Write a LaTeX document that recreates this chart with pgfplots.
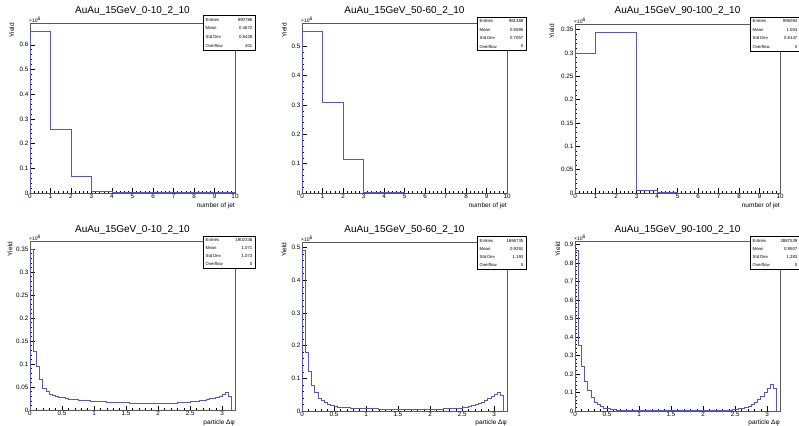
\documentclass[border=0pt]{standalone}
\usepackage{fontspec}
\setmainfont{Liberation Sans}
\usepackage{pgfplots}
\pgfplotsset{compat=1.18}
\definecolor{hcol}{RGB}{85,85,208}
\pgfplotsset{rootax/.style={
  scale only axis, width=205pt,
  tick align=inside, xtick pos=bottom, ytick pos=left,
  minor tick num=4, major tick length=4.5pt, minor tick length=2.3pt,
  every tick/.style={black, line width=0.45pt},
  axis line style={black!65, line width=0.75pt},
  scaled y ticks=false, ymin=0,
  /pgf/number format/assume math mode=true,
  tick label style={font=\fontsize{6.3}{7}\selectfont},
  yticklabel style={/pgf/number format/fixed, /pgf/number format/precision=2, inner sep=1.5pt},
  xticklabel style={/pgf/number format/fixed, /pgf/number format/precision=2, inner sep=1.2pt},
}}
\newcommand{\statbox}[8]{%
  \pgfmathsetmacro\rh{(#3-#4)/4}
  \draw[black, line width=0.45pt, fill=white] (#1,#3) rectangle (#2,#4);
  \node[anchor=west, inner sep=0, font=\fontsize{4.3}{5}\selectfont] at ({#1+2.5},{#3-0.5*\rh}) {Entries};
  \node[anchor=west, inner sep=0, font=\fontsize{4.3}{5}\selectfont] at ({#1+2.5},{#3-1.5*\rh}) {Mean};
  \node[anchor=west, inner sep=0, font=\fontsize{4.3}{5}\selectfont] at ({#1+2.5},{#3-2.5*\rh}) {Std Dev};
  \node[anchor=west, inner sep=0, font=\fontsize{4.3}{5}\selectfont] at ({#1+2.5},{#3-3.5*\rh}) {Overflow};
  \node[anchor=east, inner sep=0, font=\fontsize{4.3}{5}\selectfont] at ({#2-2.5},{#3-0.5*\rh}) {#5};
  \node[anchor=east, inner sep=0, font=\fontsize{4.3}{5}\selectfont] at ({#2-2.5},{#3-1.5*\rh}) {#6};
  \node[anchor=east, inner sep=0, font=\fontsize{4.3}{5}\selectfont] at ({#2-2.5},{#3-2.5*\rh}) {#7};
  \node[anchor=east, inner sep=0, font=\fontsize{4.3}{5}\selectfont] at ({#2-2.5},{#3-3.5*\rh}) {#8};
}
\newcommand{\decor}[3]{% xleft, ytop, ylabel x
  \node[anchor=south west, inner sep=0, font=\fontsize{5}{6}\selectfont] at ({#1-1},{#2+0.5}) {×10\textsuperscript{6}};
  \node[rotate=90, anchor=east, inner sep=0, font=\fontsize{6.5}{8}\selectfont] at (#3,#2) {Yield};
}
\begin{document}
\begin{tikzpicture}[x=1pt,y=1pt]
\useasboundingbox (0,0) rectangle (799,425);
% ---------------- top row ----------------
\begin{axis}[rootax, at={(30pt,232pt)}, anchor=south west, height=170pt,
  xmin=0, xmax=10, ymax=0.688, xtick={0,1,...,10}, ytick={0,0.1,0.2,0.3,0.4,0.5,0.6}]
\addplot[const plot mark left, hcol, line width=0.8pt] table {
0 0
0 0.655
1 0.257
2 0.068
3 0.0045
4 0.0025
5 0.0015
6 0.0010
7 0.0008
8 0.0006
9 0.0005
10 0
};
\end{axis}
\begin{axis}[rootax, at={(302pt,232pt)}, anchor=south west, height=170pt,
  xmin=0, xmax=10, ymax=0.579, xtick={0,1,...,10}, ytick={0,0.1,0.2,0.3,0.4,0.5}]
\addplot[const plot mark left, hcol, line width=0.8pt] table {
0 0
0 0.551
1 0.308
2 0.116
3 0.003
4 0.0005
5 0.0002
6 0
10 0
};
\end{axis}
\begin{axis}[rootax, at={(575pt,232pt)}, anchor=south west, height=169pt,
  xmin=0, xmax=10, ymax=0.362, xtick={0,1,...,10}, ytick={0,0.05,0.1,0.15,0.2,0.25,0.3,0.35}]
\addplot[const plot mark left, hcol, line width=0.8pt] table {
0 0
0 0.300
1 0.345
2 0.345
3 0.005
4 0.0008
5 0
10 0
};
\end{axis}
% ---------------- bottom row ----------------
\begin{axis}[rootax, at={(30pt,15pt)}, anchor=south west, height=168.3pt,
  xmin=0, xmax=3.2, ymax=0.366, xtick={0,0.5,1,1.5,2,2.5,3}, ytick={0,0.05,0.1,0.15,0.2,0.25,0.3,0.35}]
\addplot[const plot mark left, hcol, line width=0.8pt] table {
0 0
0.00 0.349
0.05 0.128
0.10 0.094
0.15 0.067
0.20 0.048
0.25 0.040
0.30 0.035
0.35 0.032
0.40 0.030
0.45 0.028
0.50 0.0265
0.55 0.025
0.60 0.024
0.65 0.0232
0.70 0.0225
0.75 0.0218
0.80 0.0212
0.85 0.0206
0.90 0.0200
0.95 0.0195
1.00 0.0190
1.05 0.0186
1.10 0.0182
1.15 0.0178
1.20 0.0174
1.25 0.0170
1.30 0.0167
1.35 0.0164
1.40 0.0161
1.45 0.0158
1.50 0.0155
1.55 0.0153
1.60 0.0151
1.65 0.0149
1.70 0.0147
1.75 0.0145
1.80 0.0144
1.85 0.0143
1.90 0.0142
1.95 0.0142
2.00 0.0142
2.05 0.0143
2.10 0.0144
2.15 0.0146
2.20 0.0148
2.25 0.0151
2.30 0.0155
2.35 0.0160
2.40 0.0166
2.45 0.0172
2.50 0.0180
2.55 0.0188
2.60 0.0197
2.65 0.0207
2.70 0.0218
2.75 0.0230
2.80 0.0244
2.85 0.0260
2.90 0.0278
2.95 0.0305
3.00 0.0340
3.05 0.0372
3.10 0.0300
3.15 0
3.20 0
};
\end{axis}
\begin{axis}[rootax, at={(302pt,14pt)}, anchor=south west, height=168.7pt,
  xmin=0, xmax=3.2, ymax=0.516, xtick={0,0.5,1,1.5,2,2.5,3}, ytick={0,0.1,0.2,0.3,0.4,0.5}]
\addplot[const plot mark left, hcol, line width=0.8pt] table {
0 0
0.00 0.491
0.05 0.180
0.10 0.120
0.15 0.078
0.20 0.056
0.25 0.040
0.30 0.032
0.35 0.025
0.40 0.020
0.45 0.017
0.50 0.014
0.55 0.012
0.60 0.011
0.65 0.0100
0.70 0.0095
0.75 0.0090
0.80 0.0085
0.85 0.0080
0.90 0.0077
0.95 0.0074
1.00 0.0071
1.05 0.0069
1.10 0.0067
1.15 0.0065
1.20 0.0063
1.25 0.0062
1.30 0.0061
1.35 0.0060
1.40 0.0060
1.45 0.0059
1.50 0.0059
1.55 0.0058
1.60 0.0058
1.65 0.0058
1.70 0.0058
1.75 0.0058
1.80 0.0058
1.85 0.0058
1.90 0.0058
1.95 0.0058
2.00 0.0059
2.05 0.0060
2.10 0.0062
2.15 0.0064
2.20 0.0067
2.25 0.0070
2.30 0.0074
2.35 0.0078
2.40 0.0085
2.45 0.0093
2.50 0.0103
2.55 0.0118
2.60 0.0138
2.65 0.0162
2.70 0.0192
2.75 0.0228
2.80 0.0275
2.85 0.0330
2.90 0.0390
2.95 0.0450
3.00 0.0510
3.05 0.0575
3.10 0.0490
3.15 0
3.20 0
};
\end{axis}
\begin{axis}[rootax, at={(575pt,14pt)}, anchor=south west, height=169.3pt,
  xmin=0, xmax=3.2, ymax=0.915, xtick={0,0.5,1,1.5,2,2.5,3}, ytick={0,0.1,0.2,0.3,0.4,0.5,0.6,0.7,0.8,0.9}]
\addplot[const plot mark left, hcol, line width=0.8pt] table {
0 0
0.00 0.870
0.05 0.355
0.10 0.242
0.15 0.160
0.20 0.112
0.25 0.074
0.30 0.049
0.35 0.033
0.40 0.023
0.45 0.016
0.50 0.012
0.55 0.009
0.60 0.007
0.65 0.0058
0.70 0.0050
0.75 0.0045
0.80 0.0040
0.85 0.0038
0.90 0.0036
0.95 0.0035
1.00 0.0034
1.05 0.0033
1.10 0.0033
1.15 0.0032
1.20 0.0032
1.25 0.0031
1.30 0.0031
1.35 0.0031
1.40 0.0030
1.45 0.0030
1.50 0.0030
1.55 0.0030
1.60 0.0030
1.65 0.0030
1.70 0.0030
1.75 0.0030
1.80 0.0030
1.85 0.0030
1.90 0.0030
1.95 0.0030
2.00 0.0030
2.05 0.0031
2.10 0.0031
2.15 0.0032
2.20 0.0033
2.25 0.0035
2.30 0.0040
2.35 0.0048
2.40 0.0058
2.45 0.0072
2.50 0.0090
2.55 0.0115
2.60 0.0150
2.65 0.0200
2.70 0.0270
2.75 0.0370
2.80 0.0490
2.85 0.0630
2.90 0.0800
2.95 0.1020
3.00 0.1220
3.05 0.1420
3.10 0.1210
3.15 0
3.20 0
};
\end{axis}
% ---------------- titles ----------------
\node[anchor=base, inner sep=0, font=\fontsize{10}{12}\selectfont] at (132.5,411) {AuAu\_15GeV\_0-10\_2\_10};
\node[anchor=base, inner sep=0, font=\fontsize{10}{12}\selectfont] at (404.5,411) {AuAu\_15GeV\_50-60\_2\_10};
\node[anchor=base, inner sep=0, font=\fontsize{10}{12}\selectfont] at (677.5,411) {AuAu\_15GeV\_90-100\_2\_10};
\node[anchor=base, inner sep=0, font=\fontsize{10}{12}\selectfont] at (132.5,192.5) {AuAu\_15GeV\_0-10\_2\_10};
\node[anchor=base, inner sep=0, font=\fontsize{10}{12}\selectfont] at (404.5,192.5) {AuAu\_15GeV\_50-60\_2\_10};
\node[anchor=base, inner sep=0, font=\fontsize{10}{12}\selectfont] at (677.5,192.5) {AuAu\_15GeV\_90-100\_2\_10};
% ---------------- axis decorations ----------------
\decor{30}{402}{11.7}
\decor{302}{402}{284.3}
\decor{575}{401}{551.7}
\decor{30}{183.3}{10}
\decor{302}{182.7}{284}
\decor{575}{183.3}{557.7}
\node[anchor=east, inner sep=0, font=\fontsize{6.5}{8}\selectfont] at (235,219) {number of jet};
\node[anchor=east, inner sep=0, font=\fontsize{6.5}{8}\selectfont] at (507,219) {number of jet};
\node[anchor=east, inner sep=0, font=\fontsize{6.5}{8}\selectfont] at (780,219) {number of jet};
\node[anchor=east, inner sep=0, font=\fontsize{6.5}{8}\selectfont] at (235,2.6) {particle Δφ};
\node[anchor=east, inner sep=0, font=\fontsize{6.5}{8}\selectfont] at (507,2.6) {particle Δφ};
\node[anchor=east, inner sep=0, font=\fontsize{6.5}{8}\selectfont] at (780,2.6) {particle Δφ};
% ---------------- stat boxes ----------------
\statbox{203}{255}{409.5}{375}{990786}{0.4672}{0.8428}{401}
\statbox{477}{526}{408}{374.3}{981388}{0.5595}{0.7057}{0}
\statbox{750}{800}{408}{374}{996094}{1.053}{0.8147}{0}
\statbox{203}{255}{189}{156.7}{1902346}{1.071}{1.073}{0}
\statbox{477}{526}{188.3}{155.7}{1696735}{0.9291}{1.193}{0}
\statbox{750}{800}{188.3}{156}{2887539}{0.9507}{1.283}{0}
\end{tikzpicture}
\end{document}
